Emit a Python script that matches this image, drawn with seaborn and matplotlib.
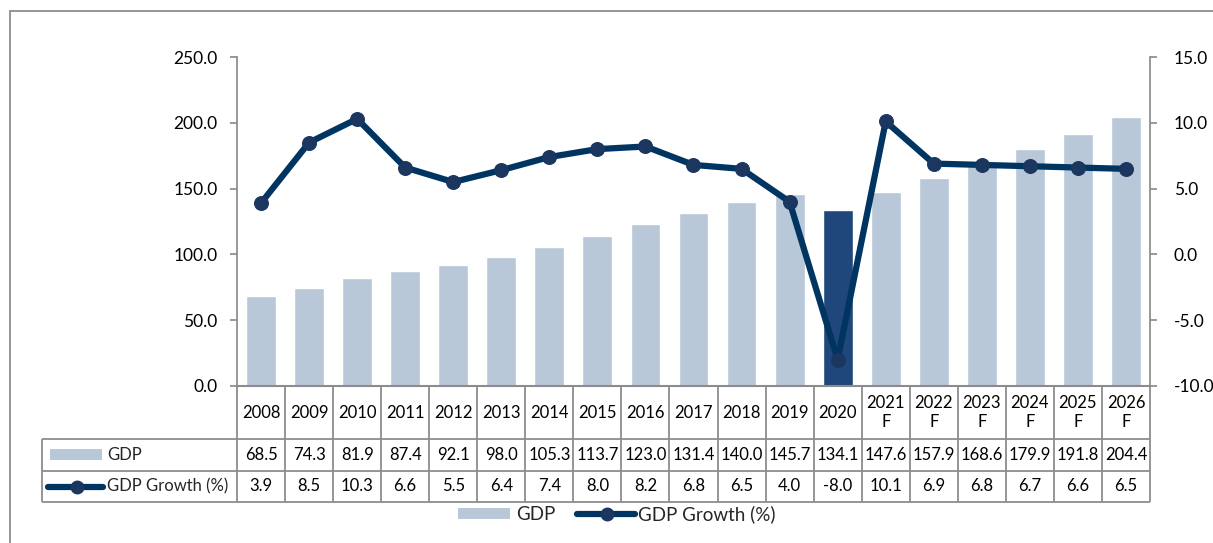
import numpy as np
import pandas as pd
import matplotlib
matplotlib.use("Agg")
import matplotlib.pyplot as plt
import matplotlib.transforms as mtransforms
from matplotlib.lines import Line2D
from matplotlib.patches import Rectangle
import seaborn as sns

# ---------------- data ----------------
years = ["2008", "2009", "2010", "2011", "2012", "2013", "2014", "2015", "2016",
         "2017", "2018", "2019", "2020", "2021\nF", "2022\nF", "2023\nF",
         "2024\nF", "2025\nF", "2026\nF"]
gdp = [68.5, 74.3, 81.9, 87.4, 92.1, 98.0, 105.3, 113.7, 123.0, 131.4, 140.0,
       145.7, 134.1, 147.6, 157.9, 168.6, 179.9, 191.8, 204.4]
growth = [3.9, 8.5, 10.3, 6.6, 5.5, 6.4, 7.4, 8.0, 8.2, 6.8, 6.5, 4.0, -8.0,
          10.1, 6.9, 6.8, 6.7, 6.6, 6.5]
highlight_year = "2020"
series_names = ["GDP", "GDP Growth (%)"]

# ---------------- style ----------------
bar_color = "#B8C8D9"
highlight_color = "#1F477B"
line_color = "#003562"
marker_color = "#1B365F"
grid_gray = "#8C8C8C"

sns.set_theme(style="white")
plt.rcParams["font.family"] = ["Lato", "DejaVu Sans"]

W, H = 1213, 543
fig = plt.figure(figsize=(W / 100, H / 100), dpi=100)
ax_l, ax_r, ax_t, ax_b = 237, 1150, 57, 386
ax = fig.add_axes([ax_l / W, 1 - ax_b / H, (ax_r - ax_l) / W, (ax_b - ax_t) / H])

n = len(years)
df = pd.DataFrame({"year": years, "gdp": gdp, "growth": growth})
palette = [highlight_color if y == highlight_year else bar_color for y in years]

sns.barplot(data=df, x="year", y="gdp", hue="year", palette=palette,
            legend=False, ax=ax, width=0.62, saturation=1)
ax.set_xlim(-0.5, n - 0.5)
ax.set_ylim(0, 250)
ax.set_yticks(np.arange(0, 251, 50))
ax.set_yticklabels([f"{v:.1f}" for v in np.arange(0, 251, 50)])
ax.set_xticks([])
ax.set_xlabel("")
ax.set_ylabel("")

ax2 = ax.twinx()
sns.lineplot(x=np.arange(n), y=growth, ax=ax2, color=line_color, linewidth=4.5,
             marker="o", markersize=10, markerfacecolor=marker_color,
             markeredgecolor=marker_color, legend=False)
ax2.set_ylim(-10, 15)
ax2.set_yticks(np.arange(-10, 16, 5))
ax2.set_yticklabels([f"{v:.1f}" for v in np.arange(-10, 16, 5)])
ax2.set_xlim(-0.5, n - 0.5)
ax2.set_ylabel("")

for a in (ax, ax2):
    for s in a.spines.values():
        s.set_visible(False)
    a.grid(False)
ax.spines["left"].set_visible(True)
ax.spines["left"].set_color(grid_gray)
ax.spines["bottom"].set_visible(True)
ax.spines["bottom"].set_color(grid_gray)
ax.spines["bottom"].set_linewidth(1.5)
ax2.spines["right"].set_visible(True)
ax2.spines["right"].set_color(grid_gray)
ax.tick_params(axis="y", left=True, length=5, color=grid_gray, labelsize=12.5,
               labelcolor="black", pad=9)
ax2.tick_params(axis="y", right=True, length=5, color=grid_gray, labelsize=12.5,
                labelcolor="black", pad=12)

# ---------------- data table ----------------
px = ax_b - ax_t
def ya(ypix):
    return -(ypix - ax_b) / px
def xa(xpix):
    return (xpix - ax_l) / (ax_r - ax_l)

y_hdr = ya(439)
y_row1 = ya(471)
y_row2 = ya(502)
x_lab = xa(42)
blend = mtransforms.blended_transform_factory(ax.transData, ax.transAxes)
lkw = dict(color=grid_gray, lw=1.3, clip_on=False, solid_capstyle="butt")

for i in range(n + 1):
    ax.add_line(Line2D([i - 0.5, i - 0.5], [0, y_row2], transform=blend, **lkw))
for yy in (y_hdr, y_row1, y_row2):
    ax.add_line(Line2D([x_lab, 1], [yy, yy], transform=ax.transAxes, **lkw))
ax.add_line(Line2D([x_lab, x_lab], [y_hdr, y_row2], transform=ax.transAxes, **lkw))

tkw = dict(ha="center", va="center", fontsize=12, color="black",
           transform=blend, clip_on=False)
for i, yr in enumerate(years):
    ax.text(i, (0 + y_hdr) / 2, yr, linespacing=1.25, **tkw)
    ax.text(i, (y_hdr + y_row1) / 2, f"{gdp[i]:.1f}", **tkw)
    ax.text(i, (y_row1 + y_row2) / 2, f"{growth[i]:.1f}", **tkw)

# row legend keys
r1c = (y_hdr + y_row1) / 2
r2c = (y_row1 + y_row2) / 2
ax.add_patch(Rectangle((xa(50), ya(460)), xa(102) - xa(50), ya(449) - ya(460),
                       transform=ax.transAxes, facecolor=bar_color,
                       edgecolor="none", clip_on=False))
ax.add_line(Line2D([xa(48), xa(103)], [r2c, r2c], transform=ax.transAxes,
                   color=line_color, lw=4.5, clip_on=False))
ax.add_line(Line2D([xa(77)], [r2c], transform=ax.transAxes, marker="o",
                   markersize=9, color=marker_color, lw=0, clip_on=False))
ax.text(xa(107), r1c, series_names[0], ha="left", va="center", fontsize=12,
        transform=ax.transAxes, clip_on=False)
ax.text(xa(107), r2c, series_names[1], ha="left", va="center", fontsize=12,
        transform=ax.transAxes, clip_on=False)

# ---------------- bottom legend (Excel style keys) ----------------
ly = ya(514)
ax.add_patch(Rectangle((xa(458), ya(519)), xa(510) - xa(458), ya(508) - ya(519),
                       transform=ax.transAxes, facecolor=bar_color,
                       edgecolor="none", clip_on=False))
ax.text(xa(516), ly, series_names[0], ha="left", va="center", fontsize=13.5,
        transform=ax.transAxes, clip_on=False)
ax.add_line(Line2D([xa(577), xa(635)], [ly, ly], transform=ax.transAxes,
                   color=line_color, lw=4.5, clip_on=False))
ax.add_line(Line2D([xa(607)], [ly], transform=ax.transAxes, marker="o",
                   markersize=9, color=marker_color, lw=0, clip_on=False))
ax.text(xa(638), ly, series_names[1], ha="left", va="center", fontsize=13.5,
        transform=ax.transAxes, clip_on=False)

# outer frame
fig.patches.append(Rectangle((10 / W, -0.2), 1.5, 1 - 11 / H + 0.2,
                             transform=fig.transFigure, fill=False,
                             edgecolor=grid_gray, lw=1.3))

fig.savefig("out.png", dpi=100, facecolor="white")
